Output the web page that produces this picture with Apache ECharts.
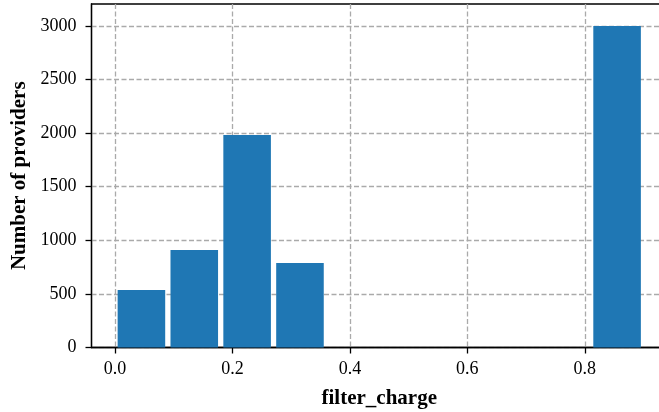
<!DOCTYPE html>
<html>
<head>
<meta charset="utf-8">
<script src="https://cdn.jsdelivr.net/npm/echarts@6/dist/echarts.min.js"></script>
<style>
  html, body { margin: 0; padding: 0; background: #fff; overflow: hidden; }
</style>
</head>
<body>
<div id="main" style="width:676px;height:412px"></div>
<script>
// histogram bins of filter_charge (bin width 0.09)
var binStart = [0.00, 0.09, 0.18, 0.27, 0.81];
var binEnd = [0.09, 0.18, 0.27, 0.36, 0.90];
var counts = [537, 910, 1983, 788, 3000];
var xTicks = [0.0, 0.2, 0.4, 0.6, 0.8];
var yTicks = [0, 500, 1000, 1500, 2000, 2500, 3000];

var rwidth = 0.9;
var font = "'Liberation Serif', 'DejaVu Serif', serif";

var data = binStart.map(function (s, i) { return [s, binEnd[i], counts[i]]; });

// plot area runs past the right edge of the 659px window, like the cropped original
var myChart = echarts.init(document.getElementById("main"), null, { renderer: "canvas" });
var gridLine = { show: true, lineStyle: { color: "#aaaaaa", type: [5, 2.5], width: 1.3 } };
var option = {
  animation: false,
  backgroundColor: "#fff",
  grid: {
    left: 91.5, top: 4, right: 9, bottom: 64.5,
    outerBoundsMode: "none",
    show: true, borderColor: "#000", borderWidth: 1.3, backgroundColor: "transparent"
  },
  xAxis: {
    type: "value",
    min: -0.04,
    max: 0.94,
    name: "filter_charge",
    nameLocation: "middle",
    nameGap: 41,
    nameTextStyle: { fontFamily: font, fontSize: 21, fontWeight: "bold", color: "#000" },
    axisLine: { show: true, onZero: false, lineStyle: { color: "#000", width: 1.3 } },
    axisTick: { show: true, length: 6, customValues: xTicks, lineStyle: { color: "#000", width: 1.3 } },
    axisLabel: {
      customValues: xTicks, margin: 13,
      fontFamily: font, fontSize: 18, color: "#000",
      formatter: function (v) { return v.toFixed(1); }
    },
    splitLine: gridLine
  },
  yAxis: {
    type: "value",
    min: 0,
    max: 3205,
    name: "Number of providers",
    nameLocation: "middle",
    nameGap: 57,
    nameTextStyle: { fontFamily: font, fontSize: 21, fontWeight: "bold", color: "#000" },
    axisLine: { show: true, onZero: false, lineStyle: { color: "#000", width: 1.3 } },
    axisTick: { show: true, length: 6, customValues: yTicks, lineStyle: { color: "#000", width: 1.3 } },
    axisLabel: {
      customValues: yTicks, margin: 15, fontFamily: font, fontSize: 18, color: "#000",
      formatter: function (v) { return String(v); }
    },
    splitLine: gridLine
  },
  series: [{
    type: "custom",
    data: data,
    encode: { x: [0, 1], y: 2 },
    renderItem: function (params, api) {
      var s = api.value(0), e = api.value(1), h = api.value(2);
      var pad = (e - s) * (1 - rwidth) / 2;
      var p0 = api.coord([s + pad, 0]);
      var p1 = api.coord([e - pad, h]);
      return {
        type: "rect",
        shape: { x: p0[0], y: p1[1], width: p1[0] - p0[0], height: p0[1] - p1[1] },
        style: { fill: "#1f77b4" }
      };
    }
  }]
};
myChart.setOption(option);
</script>
</body>
</html>
